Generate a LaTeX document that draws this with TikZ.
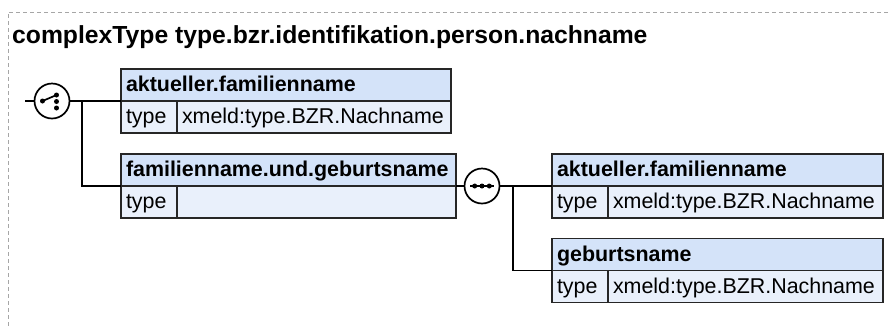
\documentclass[tikz,border=0pt]{standalone}
\usepackage{fontspec}
\setmainfont{Liberation Sans}
\definecolor{hdrc}{HTML}{D4E3F9}
\definecolor{typc}{HTML}{E9F0FB}
\definecolor{bordc}{HTML}{262626}
\definecolor{framec}{HTML}{A6A6A6}
\newcommand\bztitlefont{\fontsize{24.8}{29}\selectfont\bfseries}
\newcommand\bzboxfont{\fontsize{21.5}{25}\selectfont}
\tikzset{
  cellbase/.style={draw=bordc, line width=1.6bp, anchor=north west, inner xsep=5bp, inner ysep=0pt,
    outer sep=0pt, minimum height=32bp, text height=17bp, text depth=4bp, align=left, font=\bzboxfont},
  hdr/.style={cellbase, fill=hdrc, font=\bzboxfont\bfseries},
  typ/.style={cellbase, fill=typc},
  conn/.style={draw=black, line width=1.7bp},
  icon/.style={circle, draw=black, fill=white, line width=1.7bp, minimum size=35bp, inner sep=0pt, outer sep=0pt},
  framestyle/.style={draw=framec, line width=1bp, dash pattern=on 4bp off 3bp}
}
\begin{document}
\begin{tikzpicture}[x=1bp,y=-1bp]
\useasboundingbox (0,0) rectangle (891,325);
% frame
\draw[framestyle] (895,12) -- (8,12) -- (8,330);
% title
\node[anchor=base west, inner sep=0pt, font=\bztitlefont] (title) at (12,43) {complexType type.bzr.identifikation.person.nachname};
% connectors
\coordinate (cin) at (25,101);
\coordinate (j1) at (82,101);
\coordinate (j2) at (513,186);
\node[icon] (choice) at (52,101) {};
\node[icon] (seq) at (482,186) {};
% boxes
\node[hdr, text width=320bp] (b1h) at (121,69) {aktueller.familienname};
\node[typ, text width=46bp] (b1l) at (b1h.south west) {type};
\node[typ, text width=264bp] (b1v) at (b1l.north east) {xmeld:type.BZR.Nachname};

\node[hdr, text width=325bp] (b2h) at (121,154) {familienname.und.geburtsname};
\node[typ, text width=46bp] (b2l) at (b2h.south west) {type};
\node[typ, text width=269bp] (b2v) at (b2l.north east) {};

\node[hdr, text width=321bp] (b3h) at (552,154) {aktueller.familienname};
\node[typ, text width=46bp] (b3l) at (b3h.south west) {type};
\node[typ, text width=265bp] (b3v) at (b3l.north east) {xmeld:type.BZR.Nachname};

\node[hdr, text width=321bp] (b4h) at (552,238.5) {geburtsname};
\node[typ, text width=46bp] (b4l) at (b4h.south west) {type};
\node[typ, text width=265bp] (b4v) at (b4l.north east) {xmeld:type.BZR.Nachname};

\draw[conn] (cin) -- (choice.west);
\draw[conn] (choice.east) -- (b1h.south west);
\draw[conn] (j1) |- (b2h.south west);
\draw[conn] (b2h.south east) -- (seq.west);
\draw[conn] (seq.east) -- (b3h.south west);
\draw[conn] (j2) |- (b4h.south west);

% choice symbol
\draw[line width=1.7bp] ([shift={(-9.5,0)}]choice.center) -- ([shift={(4.5,-6)}]choice.center);
\fill ([shift={(-9.5,0)}]choice.center) circle (2.5bp);
\fill ([shift={(4.5,-6)}]choice.center) circle (2.5bp);
\fill ([shift={(4.5,0.5)}]choice.center) circle (2.5bp);
\fill ([shift={(4.5,7)}]choice.center) circle (2.5bp);
% sequence symbol
\draw[line width=1.7bp] ([shift={(-12,0)}]seq.center) -- ([shift={(12,0)}]seq.center);
\fill ([shift={(-7.3,0)}]seq.center) circle (2.5bp);
\fill (seq.center) circle (2.5bp);
\fill ([shift={(7.3,0)}]seq.center) circle (2.5bp);
\end{tikzpicture}
\end{document}
